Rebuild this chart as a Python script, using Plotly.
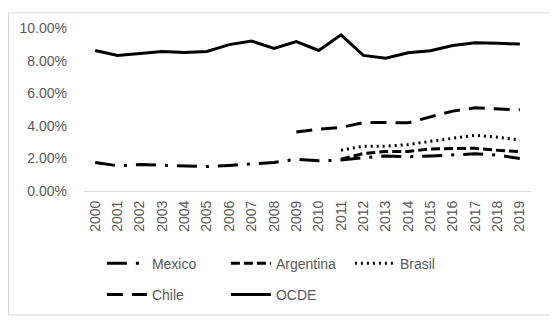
import plotly.graph_objects as go

years = [str(y) for y in range(2000, 2020)]
mexico = [1.75, 1.55, 1.62, 1.57, 1.55, 1.5, 1.57, 1.68, 1.75, 1.95, 1.85, 1.9, 2.05, 2.15, 2.1, 2.15, 2.2, 2.28, 2.2, 2.0]
argentina = [None]*11 + [1.95, 2.3, 2.42, 2.42, 2.58, 2.6, 2.62, 2.5, 2.42]
brasil = [None]*11 + [2.5, 2.75, 2.75, 2.85, 3.05, 3.25, 3.42, 3.3, 3.12]
chile = [None]*9 + [3.62, 3.8, 3.9, 4.2, 4.2, 4.18, 4.55, 4.9, 5.1, 5.05, 4.98]
ocde = [8.62, 8.32, 8.44, 8.56, 8.5, 8.56, 8.98, 9.2, 8.74, 9.16, 8.62, 9.58, 8.32, 8.14, 8.48, 8.6, 8.92, 9.1, 9.06, 9.02]

series = [
    ("Mexico", mexico, "20px,9px,3px,9px", "legend"),
    ("Argentina", argentina, "9px,4px", "legend"),
    ("Brasil", brasil, "2px,4px", "legend"),
    ("Chile", chile, "16px,9px", "legend2"),
    ("OCDE", ocde, "solid", "legend2"),
]

fig = go.Figure()
for name, vals, dash, lg in series:
    fig.add_trace(go.Scatter(
        x=years, y=[v/100 if v is not None else None for v in vals],
        name=name, mode="lines", legend=lg,
        line=dict(color="black", width=3, dash=dash),
        connectgaps=False,
    ))

L, T, W, H = 76, 16, 447, 167
font = dict(family="Liberation Sans, Arial, sans-serif", size=14, color="#595959")
fig.update_layout(
    width=558, height=323,
    margin=dict(l=L, r=558 - L - W, t=T, b=323 - T - H),
    paper_bgcolor="white", plot_bgcolor="white",
    font=font,
    showlegend=True,
    xaxis=dict(type="category", range=[-0.5, 19.5], tickangle=-90, showgrid=False, showline=True,
               linecolor="#d9d9d9", linewidth=1, ticks="", tickfont=font, ticklabelstandoff=3),
    yaxis=dict(range=[0, 0.10], tickvals=[0, 0.02, 0.04, 0.06, 0.08, 0.10],
               tickformat=".2%", showgrid=False, zeroline=False, showline=False,
               ticks="", ticklabelstandoff=16, tickfont=font),
    legend=dict(orientation="h", x=0.04, xanchor="left", y=-0.347, yanchor="top",
                entrywidth=69, entrywidthmode="pixels", font=font,
                bgcolor="rgba(0,0,0,0)", itemwidth=40),
    legend2=dict(orientation="h", x=0.04, xanchor="left", y=-0.539, yanchor="top",
                 entrywidth=69, entrywidthmode="pixels", font=font,
                 bgcolor="rgba(0,0,0,0)", itemwidth=40),
    shapes=[dict(type="rect", xref="paper", yref="paper",
                 x0=(0.5 - L) / W, x1=(545 - L) / W,
                 y0=-(310 - T - H) / H, y1=(T + H - 0.5) / H,
                 line=dict(color="#d9d9d9", width=1), fillcolor="rgba(0,0,0,0)",
                 layer="below")],
)
fig.write_html("out.html")
